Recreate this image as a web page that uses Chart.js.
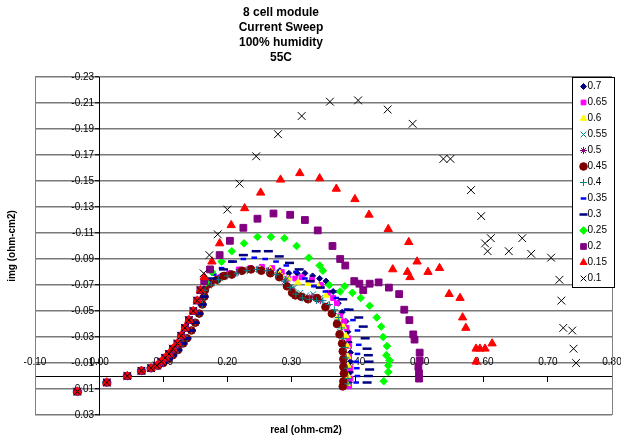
<!DOCTYPE html>
<html>
<head>
<meta charset="utf-8">
<script src="https://cdn.jsdelivr.net/npm/chart.js@4.4.1/dist/chart.umd.min.js"></script>
<style>
  html, body { margin: 0; padding: 0; background: #fff; }
</style>
</head>
<body>
<canvas id="nyquist" width="621" height="437"></canvas>
<script>
// --- DATA ---
const titleLines = ['8 cell module', 'Current Sweep', '100% humidity', '55C'];
const seriesLabels = ['0.7', '0.65', '0.6', '0.55', '0.5', '0.45', '0.4', '0.35', '0.3', '0.25', '0.2', '0.15', '0.1'];

const xRange = [-0.10, 0.80];
const xStep = 0.10;
const yRange = [-0.23, 0.03];
const yStep = 0.02;

// high frequency part, the series overlap here
const hfTailLow = [[-0.034, 0.012], [0.012, 0.005], [0.044, 0.000], [0.066, -0.004], [0.081, -0.006],
  [0.090, -0.008], [0.097, -0.011], [0.103, -0.014], [0.109, -0.017], [0.115, -0.021], [0.122, -0.025],
  [0.128, -0.031], [0.134, -0.037], [0.140, -0.043], [0.147, -0.050], [0.153, -0.058], [0.158, -0.066]];
const hfTailHigh = [[-0.034, 0.012], [0.012, 0.005], [0.044, 0.000], [0.066, -0.004], [0.081, -0.006],
  [0.092, -0.008], [0.100, -0.010], [0.108, -0.013], [0.115, -0.016], [0.123, -0.020], [0.131, -0.025],
  [0.137, -0.029], [0.144, -0.035], [0.150, -0.041], [0.156, -0.048], [0.161, -0.055], [0.164, -0.061]];

const pts070 = [[0.168, -0.068], [0.178, -0.073], [0.190, -0.077], [0.204, -0.079], [0.220, -0.081], [0.236, -0.082],
  [0.251, -0.082], [0.267, -0.082], [0.282, -0.081], [0.296, -0.079], [0.309, -0.079], [0.321, -0.079], [0.333, -0.077],
  [0.344, -0.075], [0.354, -0.073], [0.365, -0.065], [0.373, -0.056], [0.379, -0.049], [0.385, -0.042], [0.388, -0.034],
  [0.390, -0.026], [0.392, -0.018], [0.392, -0.011], [0.392, -0.003], [0.390, 0.005]];
const pts065 = [[0.167, -0.068], [0.176, -0.072], [0.189, -0.076], [0.203, -0.079], [0.218, -0.082], [0.236, -0.083],
  [0.254, -0.084], [0.270, -0.083], [0.285, -0.080], [0.295, -0.075], [0.306, -0.075], [0.316, -0.076], [0.332, -0.074],
  [0.346, -0.070], [0.357, -0.064], [0.365, -0.060], [0.371, -0.056], [0.376, -0.046], [0.382, -0.042], [0.386, -0.037],
  [0.389, -0.029], [0.390, -0.023], [0.390, -0.015], [0.392, -0.006], [0.392, 0.002], [0.390, 0.008]];
const pts060 = [[0.167, -0.067], [0.178, -0.072], [0.190, -0.075], [0.204, -0.078], [0.220, -0.080], [0.236, -0.082],
  [0.251, -0.082], [0.267, -0.082], [0.282, -0.079], [0.295, -0.075], [0.310, -0.072], [0.326, -0.071], [0.342, -0.069],
  [0.354, -0.062], [0.363, -0.048], [0.373, -0.045], [0.381, -0.038], [0.385, -0.031], [0.387, -0.023], [0.388, -0.015],
  [0.388, -0.008], [0.388, 0.000], [0.387, 0.006]];
const pts055 = [[0.165, -0.067], [0.176, -0.072], [0.189, -0.075], [0.203, -0.078], [0.218, -0.080], [0.234, -0.082],
  [0.250, -0.082], [0.265, -0.081], [0.281, -0.078], [0.293, -0.075], [0.304, -0.068], [0.314, -0.064], [0.323, -0.062],
  [0.334, -0.063], [0.345, -0.060], [0.354, -0.055], [0.363, -0.049], [0.371, -0.042], [0.376, -0.034], [0.379, -0.026],
  [0.381, -0.018], [0.382, -0.011], [0.382, -0.003], [0.382, 0.005]];
const pts050 = [[0.165, -0.066], [0.175, -0.071], [0.187, -0.075], [0.201, -0.078], [0.217, -0.080], [0.232, -0.082],
  [0.248, -0.082], [0.264, -0.081], [0.278, -0.078], [0.290, -0.073], [0.300, -0.067], [0.309, -0.062], [0.320, -0.060],
  [0.332, -0.061], [0.345, -0.058], [0.356, -0.054], [0.365, -0.048], [0.371, -0.041], [0.376, -0.033], [0.379, -0.025],
  [0.381, -0.018], [0.381, -0.010], [0.381, -0.002], [0.381, 0.005]];
const pts045 = [[0.165, -0.066], [0.173, -0.071], [0.184, -0.074], [0.195, -0.077], [0.207, -0.078], [0.223, -0.081],
  [0.237, -0.082], [0.253, -0.081], [0.267, -0.079], [0.281, -0.076], [0.293, -0.069], [0.301, -0.064], [0.306, -0.062],
  [0.315, -0.061], [0.326, -0.059], [0.340, -0.060], [0.353, -0.053], [0.363, -0.048], [0.371, -0.040], [0.375, -0.032],
  [0.379, -0.025], [0.380, -0.019], [0.381, -0.013], [0.381, -0.007], [0.382, -0.002], [0.381, 0.004], [0.380, 0.008]];
const pts040 = [[0.165, -0.066], [0.175, -0.070], [0.186, -0.074], [0.200, -0.077], [0.215, -0.079], [0.231, -0.081],
  [0.246, -0.082], [0.262, -0.081], [0.276, -0.078], [0.289, -0.073], [0.298, -0.068], [0.307, -0.063], [0.317, -0.060],
  [0.328, -0.059], [0.339, -0.058], [0.349, -0.058], [0.359, -0.055], [0.367, -0.051], [0.373, -0.045], [0.378, -0.037],
  [0.381, -0.029], [0.384, -0.022], [0.385, -0.014], [0.387, -0.006], [0.388, 0.002], [0.388, 0.006]];
const pts035 = [[0.170, -0.072], [0.179, -0.078], [0.191, -0.083], [0.207, -0.088], [0.225, -0.090], [0.242, -0.091],
  [0.259, -0.090], [0.276, -0.088], [0.292, -0.085], [0.307, -0.080], [0.321, -0.075], [0.335, -0.069], [0.353, -0.065],
  [0.370, -0.060], [0.386, -0.051], [0.396, -0.043], [0.403, -0.035], [0.405, -0.024], [0.403, -0.017], [0.401, -0.011],
  [0.402, -0.006], [0.403, 0.000], [0.401, 0.005]];
const pts030 = [[0.176, -0.075], [0.194, -0.082], [0.208, -0.088], [0.225, -0.093], [0.245, -0.096], [0.264, -0.096],
  [0.281, -0.092], [0.297, -0.087], [0.312, -0.082], [0.329, -0.073], [0.345, -0.068], [0.365, -0.065], [0.380, -0.059],
  [0.390, -0.051], [0.405, -0.045], [0.412, -0.038], [0.415, -0.029], [0.418, -0.021], [0.420, -0.016], [0.421, -0.011],
  [0.422, -0.005], [0.420, 0.000], [0.418, 0.005]];
const pts025 = [[0.167, -0.072], [0.176, -0.080], [0.191, -0.088], [0.207, -0.096], [0.226, -0.102], [0.247, -0.107],
  [0.268, -0.107], [0.289, -0.106], [0.308, -0.100], [0.327, -0.091], [0.344, -0.085], [0.349, -0.081], [0.359, -0.070],
  [0.376, -0.065], [0.383, -0.069], [0.395, -0.064], [0.408, -0.060], [0.422, -0.054], [0.433, -0.045], [0.440, -0.038],
  [0.443, -0.030], [0.449, -0.023], [0.448, -0.016], [0.453, -0.012], [0.451, -0.008], [0.451, -0.003], [0.444, 0.004]];
const pts020 = [[0.164, -0.073], [0.173, -0.082], [0.188, -0.093], [0.204, -0.104], [0.225, -0.114], [0.247, -0.121],
  [0.272, -0.125], [0.298, -0.124], [0.321, -0.120], [0.341, -0.112], [0.364, -0.100], [0.376, -0.090], [0.384, -0.085],
  [0.398, -0.073], [0.406, -0.071], [0.412, -0.066], [0.422, -0.071], [0.436, -0.072], [0.452, -0.068], [0.468, -0.063],
  [0.476, -0.051], [0.484, -0.043], [0.490, -0.032], [0.492, -0.028], [0.500, -0.018], [0.500, -0.012], [0.498, -0.007],
  [0.499, -0.002], [0.499, 0.002]];
const pts015 = [[0.164, -0.076], [0.176, -0.088], [0.188, -0.102], [0.206, -0.116], [0.227, -0.129], [0.252, -0.141],
  [0.283, -0.151], [0.313, -0.156], [0.344, -0.152], [0.370, -0.144], [0.399, -0.136], [0.421, -0.124], [0.451, -0.113],
  [0.483, -0.103], [0.496, -0.088], [0.458, -0.082], [0.481, -0.080], [0.485, -0.076], [0.513, -0.080], [0.531, -0.083],
  [0.546, -0.063], [0.563, -0.060], [0.567, -0.045], [0.572, -0.037], [0.588, -0.021], [0.594, -0.021], [0.602, -0.021],
  [0.613, -0.025], [0.588, -0.011]];
const pts010 = [[0.163, -0.079], [0.172, -0.093], [0.185, -0.109], [0.200, -0.128], [0.219, -0.148], [0.245, -0.169],
  [0.279, -0.186], [0.316, -0.200], [0.360, -0.211], [0.404, -0.212], [0.450, -0.205], [0.489, -0.194], [0.537, -0.167],
  [0.548, -0.167], [0.580, -0.143], [0.596, -0.123], [0.602, -0.102], [0.611, -0.106], [0.606, -0.096], [0.639, -0.096],
  [0.660, -0.106], [0.674, -0.094], [0.705, -0.091], [0.718, -0.074], [0.721, -0.058], [0.724, -0.037], [0.738, -0.035],
  [0.740, -0.021], [0.744, -0.010]];

const seriesPoints = [pts070, pts065, pts060, pts055, pts050, pts045, pts040, pts035, pts030, pts025, pts020, pts015, pts010];

// --- MARKER STYLES (Excel defaults for the 13 series) ---
const markerStyles = ['rectRot', 'rect', 'triangle', 'crossRot', 'star', 'circle', 'cross', 'line', 'line', 'rectRot', 'rect', 'triangle', 'crossRot'];
const markerColors = ['#000080', '#FF00FF', '#FFFF00', '#008080', '#800080', '#800000', '#008080', '#0000FF', '#000080', '#00FF00', '#800080', '#FF0000', '#000000'];
const markerSizes = [3, 3.4, 3.6, 4, 3.6, 3.8, 3.5, 2.8, 4.5, 3.8, 4.8, 4.8, 5.5];
const markerLines = [1, 1, 1, 1, 1, 1, 1, 2.5, 2.5, 1, 1, 1, 1];

const FONT = '"Liberation Sans", Arial, sans-serif';
Chart.defaults.font.family = FONT;
Chart.defaults.color = '#000';

const fmt = v => v.toFixed(2);

// lower current series follow the outer high frequency path
const tailFor = i => (i >= 9 ? hfTailLow : hfTailHigh);

const datasets = seriesLabels.map((label, i) => ({
    label: label,
    data: tailFor(i).concat(seriesPoints[i]).map(p => ({ x: p[0], y: p[1] })),
    pointStyle: markerStyles[i],
    pointRadius: markerSizes[i],
    backgroundColor: markerColors[i],
    borderColor: markerColors[i],
    borderWidth: markerLines[i],
    showLine: false,
    xAxisID: 'x',
    yAxisID: 'y',
    order: seriesLabels.length - 1 - i // 0.1 is drawn last, on top
}));

// Excel centred the title a bit left of the plot centre
const titleShift = {
    id: 'titleShift',
    afterLayout(chart) {
        const t = chart.titleBlock;
        if (!t) return;
        t.right = t.left + 562;
        t.width = 562;
    }
};

// gray frame on the left and right side of the plot area
const plotFrame = {
    id: 'plotFrame',
    beforeDatasetsDraw(chart) {
        const { ctx, chartArea: a } = chart;
        ctx.save();
        ctx.strokeStyle = '#808080';
        ctx.lineWidth = 1;
        ctx.beginPath();
        ctx.moveTo(Math.round(a.left) + 0.5, a.top);
        ctx.lineTo(Math.round(a.left) + 0.5, a.bottom);
        ctx.moveTo(Math.round(a.right) + 0.5, a.top);
        ctx.lineTo(Math.round(a.right) + 0.5, a.bottom);
        ctx.stroke();
        ctx.restore();
    }
};

// Excel style legend box sitting inside the plot area, top right
const insetLegend = {
    id: 'insetLegend',
    afterDraw(chart) {
        const { ctx, chartArea: a } = chart;
        const sets = chart.data.datasets;
        const rowH = 16, pad = 9, boxW = 42;
        const boxH = pad * 2 + rowH * (sets.length - 1);
        const left = Math.round(a.right) - 39.5;
        const top = Math.round(a.top) + 0.5;

        ctx.save();
        ctx.fillStyle = '#fff';
        ctx.fillRect(left, top, boxW, boxH);
        ctx.strokeStyle = '#000';
        ctx.lineWidth = 1;
        ctx.strokeRect(left, top, boxW, boxH);

        ctx.font = '10px ' + FONT;
        ctx.textBaseline = 'middle';
        ctx.textAlign = 'left';
        sets.forEach((ds, i) => {
            const y = top + pad + rowH * i;
            ctx.fillStyle = ds.backgroundColor;
            ctx.strokeStyle = ds.borderColor;
            ctx.lineWidth = ds.borderWidth;
            const r = Math.min(ds.pointRadius, 4);
            if (Chart.helpers && Chart.helpers.drawPoint) {
                Chart.helpers.drawPoint(ctx, { pointStyle: ds.pointStyle, radius: r, rotation: 0, borderWidth: ds.borderWidth }, left + 11, y);
            } else {
                ctx.fillRect(left + 11 - r / 2, y - r / 2, r, r);
            }
            ctx.fillStyle = '#000';
            ctx.fillText(ds.label, left + 15, y);
        });
        ctx.restore();
    }
};

new Chart(document.getElementById('nyquist'), {
    type: 'scatter',
    data: { datasets: datasets },
    plugins: [titleShift, plotFrame, insetLegend],
    options: {
        responsive: false,
        animation: false,
        layout: { padding: { left: 0, right: 9, top: 0, bottom: 0 } },
        plugins: {
            legend: { display: false },
            tooltip: { enabled: false },
            title: {
                display: true,
                text: titleLines,
                fullSize: true,
                color: '#000',
                font: { size: 12, weight: 'bold', lineHeight: 1.25 },
                padding: { top: 5.5, bottom: 11.5 }
            },
            subtitle: {
                display: true,
                position: 'bottom',
                text: 'real (ohm-cm2)',
                fullSize: true,
                color: '#000',
                font: { size: 10, weight: 'bold', lineHeight: 1.2 },
                padding: { top: 9, bottom: 1 }
            }
        },
        scales: {
            x: {
                type: 'linear',
                position: { y: 0 },
                min: xRange[0],
                max: xRange[1],
                ticks: { stepSize: xStep, callback: fmt, padding: -25, font: { size: 10 }, color: '#000' },
                grid: { drawOnChartArea: false, drawTicks: true, tickLength: 5, tickColor: '#000' },
                border: { color: '#000', width: 1 },
                afterFit(scale) { scale.paddingLeft = 0; scale.paddingRight = 0; }
            },
            y: {
                type: 'linear',
                position: { x: 0 },
                reverse: true,
                min: yRange[0],
                max: yRange[1],
                ticks: { stepSize: yStep, callback: v => fmt(v) + '\u2002', font: { size: 10 }, color: '#000' },
                grid: { color: '#7a7a7a', lineWidth: 1.5, drawTicks: true, tickLength: 4, tickColor: '#000', tickWidth: 1 },
                border: { color: '#000', width: 1 }
            },
            yt: {
                type: 'linear',
                position: 'left',
                display: true,
                ticks: { display: false },
                grid: { display: false, drawTicks: false },
                border: { display: false },
                title: {
                    display: true,
                    text: 'img (ohm-cm2)',
                    color: '#000',
                    font: { size: 10, weight: 'bold', lineHeight: 1.2 },
                    padding: { top: 6.5, bottom: 16.5 }
                }
            }
        }
    }
});
</script>
</body>
</html>
